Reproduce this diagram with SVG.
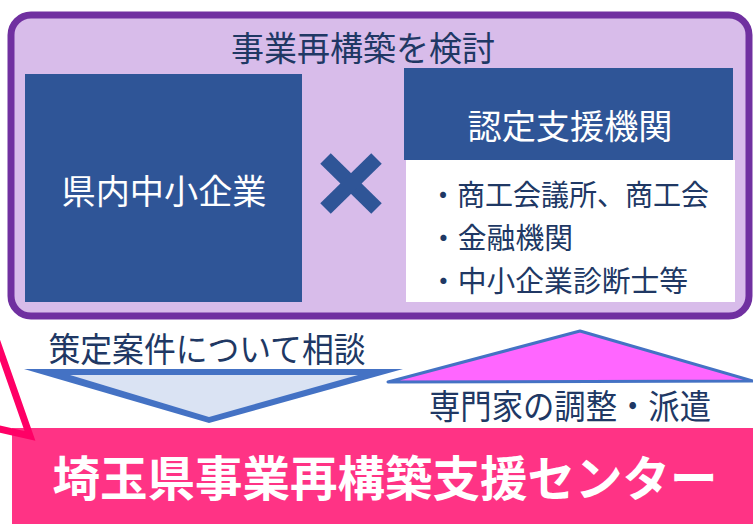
<svg xmlns="http://www.w3.org/2000/svg" width="753" height="524" viewBox="0 0 753 524">
<style>
.t{font-family:"Noto Sans CJK JP","Noto Sans",sans-serif;}
.navy{fill:#203864;}
.wh{fill:#ffffff;}
.box{fill:#2F5597;}
</style>
<rect width="753" height="524" fill="#ffffff"/>
<g id="group-frame">
<rect x="11" y="15" width="738" height="301" rx="20" ry="20" fill="#D8BCEA" stroke="#7030A0" stroke-width="7"/>
<text class="t navy" x="363" y="61" font-size="34" text-anchor="middle" textLength="264" lengthAdjust="spacingAndGlyphs">事業再構築を検討</text>
</g>
<g id="node-sme">
<rect class="box" x="25" y="74" width="277" height="228"/>
<text class="t wh" x="164" y="204" font-size="34" text-anchor="middle" textLength="205" lengthAdjust="spacingAndGlyphs">県内中小企業</text>
</g>
<g id="node-cross">
<line x1="325.5" y1="158.5" x2="376.5" y2="208.5" stroke="#2F5597" stroke-width="15"/>
<line x1="376.5" y1="158.5" x2="325.5" y2="208.5" stroke="#2F5597" stroke-width="15"/>
</g>
<g id="node-agency">
<rect class="box" x="404" y="68" width="329" height="92"/>
<text class="t wh" x="570" y="139" font-size="34" text-anchor="middle" textLength="205" lengthAdjust="spacingAndGlyphs">認定支援機関</text>
<rect x="406" y="160" width="329" height="142" fill="#ffffff"/>
<text class="t navy" x="429" y="206" font-size="29" textLength="280" lengthAdjust="spacingAndGlyphs">・商工会議所、商工会</text>
<text class="t navy" x="429" y="249" font-size="29" textLength="144" lengthAdjust="spacingAndGlyphs">・金融機関</text>
<text class="t navy" x="429" y="292" font-size="29" textLength="259" lengthAdjust="spacingAndGlyphs">・中小企業診断士等</text>
</g>
<g id="connectors">
<polygon points="24,369 403,369 209,423" fill="#4472C4"/>
<polygon points="70,375 358,375 209,417" fill="#DAE3F3"/>
<polygon points="388,382 580,331 753,381" fill="#FF66FF" stroke="#4472C4" stroke-width="3" stroke-linejoin="round"/>
<text class="t navy" x="207" y="362" font-size="34" text-anchor="middle" textLength="317" lengthAdjust="spacingAndGlyphs">策定案件について相談</text>
<text class="t navy" x="570" y="419" font-size="34" text-anchor="middle" textLength="282" lengthAdjust="spacingAndGlyphs">専門家の調整・派遣</text>
</g>
<g id="node-center">
<rect x="12" y="428" width="741" height="96" fill="#FF3385"/>
<polyline points="-5,336 30,436 -5,428" fill="none" stroke="#FF0066" stroke-width="7" stroke-linejoin="miter"/>
<text class="t wh" x="385" y="496" font-size="48" font-weight="bold" text-anchor="middle" textLength="665" lengthAdjust="spacingAndGlyphs">埼玉県事業再構築支援センター</text>
</g>
</svg>
